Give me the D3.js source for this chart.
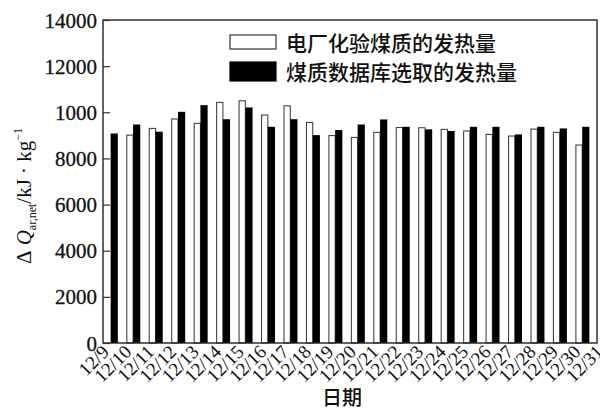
<!DOCTYPE html>
<html>
<head>
<meta charset="utf-8">
<script src="https://cdn.jsdelivr.net/npm/d3@7"></script>
<style>
  html, body { margin: 0; padding: 0; background: #fff; }
  svg { display: block; }
</style>
</head>
<body>
<svg id="chart" width="600" height="410"></svg>
<script>
// Daily dates (one pair of bars per day)
const categories = ["12/9","12/10","12/11","12/12","12/13","12/14","12/15","12/16","12/17","12/18","12/19",
  "12/20","12/21","12/22","12/23","12/24","12/25","12/26","12/27","12/28","12/29","12/30"];
// Axis labels along the date axis
const dateLabels = categories.concat(["12/31"]);
// Heating value from plant lab analysis (white bars), kJ/kg
const labValues = [null, 9010, 9300, 9710, 9520, 10430, 10500, 9880, 10280, 9560, 8990,
  8910, 9130, 9340, 9330, 9260, 9190, 9040, 8970, 9270, 9130, 8580];
// Heating value selected from the coal-quality database (black bars), kJ/kg
const dbValues = [9080, 9470, 9160, 10020, 10310, 9700, 10210, 9370, 9700, 9010, 9230,
  9470, 9690, 9370, 9260, 9190, 9370, 9370, 9040, 9370, 9300, 9370];
// Y-axis ticks and their printed labels
const yTicks = [0, 2000, 4000, 6000, 8000, 10000, 12000, 14000];
const yTickLabels = ["0", "2000", "4000", "6000", "8000", "1000", "12000", "14000"];
const legendLabels = ["电厂化验煤质的发热量", "煤质数据库选取的发热量"];

const svg = d3.select("#chart");
const margin = { left: 103, right: 3, top: 20, bottom: 67 };
const W = 600, H = 410;
const plotL = margin.left, plotR = W - margin.right, plotT = margin.top, plotB = H - margin.bottom;

const x = d3.scaleBand().domain(categories).range([plotL, plotR]).padding(0);
const y = d3.scaleLinear().domain([0, 14000]).range([plotB, plotT]);
const bw = x.bandwidth();

const serif = "'Liberation Serif', 'DejaVu Serif', serif";
const cjk = "'Noto Sans CJK SC', 'Noto Sans', sans-serif";

// Bars: lab values (white, outlined)
svg.append("g").selectAll("rect")
  .data(categories.map((c, i) => ({ c, v: labValues[i] })).filter(d => d.v != null))
  .join("rect")
  .attr("x", d => x(d.c) + bw * 0.06)
  .attr("y", d => y(d.v))
  .attr("width", bw * 0.28)
  .attr("height", d => plotB - y(d.v))
  .attr("fill", "#fff")
  .attr("stroke", "#444")
  .attr("stroke-width", 1.1);

// Bars: database values (black)
svg.append("g").selectAll("rect")
  .data(categories.map((c, i) => ({ c, v: dbValues[i] })))
  .join("rect")
  .attr("x", d => x(d.c) + bw * 0.34)
  .attr("y", d => y(d.v))
  .attr("width", bw * 0.32)
  .attr("height", d => plotB - y(d.v))
  .attr("fill", "#000");

// Plot frame
svg.append("rect")
  .attr("x", plotL).attr("y", plotT)
  .attr("width", plotR - plotL).attr("height", plotB - plotT)
  .attr("fill", "none").attr("stroke", "#222").attr("stroke-width", 1.4);

// Y axis: inward ticks, labels to the left
const yAxis = d3.axisLeft(y).tickValues(yTicks)
  .tickSizeInner(-7).tickSizeOuter(0).tickPadding(12)
  .tickFormat((d, i) => yTickLabels[i]);
const gy = svg.append("g").attr("transform", `translate(${plotL},0)`).call(yAxis);
gy.select(".domain").remove();
gy.selectAll(".tick line").attr("stroke", "#333").attr("stroke-width", 1.2);
gy.selectAll(".tick text")
  .attr("font-family", serif).attr("font-size", 21).attr("fill", "#111")
  .attr("stroke", "#111").attr("stroke-width", 0.3)
  .attr("x", -6).attr("dy", "0.34em");

// X labels, rotated 45 degrees
svg.append("g").selectAll("text")
  .data(dateLabels)
  .join("text")
  .attr("transform", (d, i) => {
    const cx = plotL + x.step() * (i + 0.5) - 4;
    return `translate(${cx},${plotB + 10}) rotate(-45)`;
  })
  .attr("text-anchor", "end")
  .attr("font-family", serif)
  .attr("font-size", 19)
  .attr("fill", "#111")
  .text(d => d);

// X axis title
svg.append("text")
  .attr("x", 342).attr("y", 405)
  .attr("text-anchor", "middle")
  .attr("font-family", cjk).attr("font-size", 20).attr("font-weight", 500)
  .attr("fill", "#111")
  .text("日期");

// Y axis title: ΔQ_ar,net / kJ · kg^-1
const yt = svg.append("text")
  .attr("transform", "translate(31,196) rotate(-90)")
  .attr("text-anchor", "middle")
  .attr("font-family", serif).attr("font-size", 21).attr("fill", "#111");
yt.append("tspan").text("\u0394");
yt.append("tspan").attr("font-style", "italic").text(" Q");
yt.append("tspan").attr("font-size", 12).attr("dy", 5).text("ar,net");
yt.append("tspan").attr("dy", -5).text("/kJ \u00b7 kg");
yt.append("tspan").attr("font-size", 12).attr("dy", -9).text("\u22121");

// Legend
const legend = svg.append("g");
const legendRows = [
  { label: legendLabels[0], fill: "#fff", stroke: "#333", ry: 35, rh: 14, ty: 51 },
  { label: legendLabels[1], fill: "#000", stroke: "#000", ry: 62, rh: 19, ty: 80 }
];
legendRows.forEach(r => {
  legend.append("rect")
    .attr("x", 230).attr("y", r.ry).attr("width", 46).attr("height", r.rh)
    .attr("fill", r.fill).attr("stroke", r.stroke).attr("stroke-width", 1.2);
  legend.append("text")
    .attr("x", 286).attr("y", r.ty)
    .attr("font-family", cjk).attr("font-size", 21).attr("font-weight", 500).attr("fill", "#111")
    .text(r.label);
});
</script>
</body>
</html>
